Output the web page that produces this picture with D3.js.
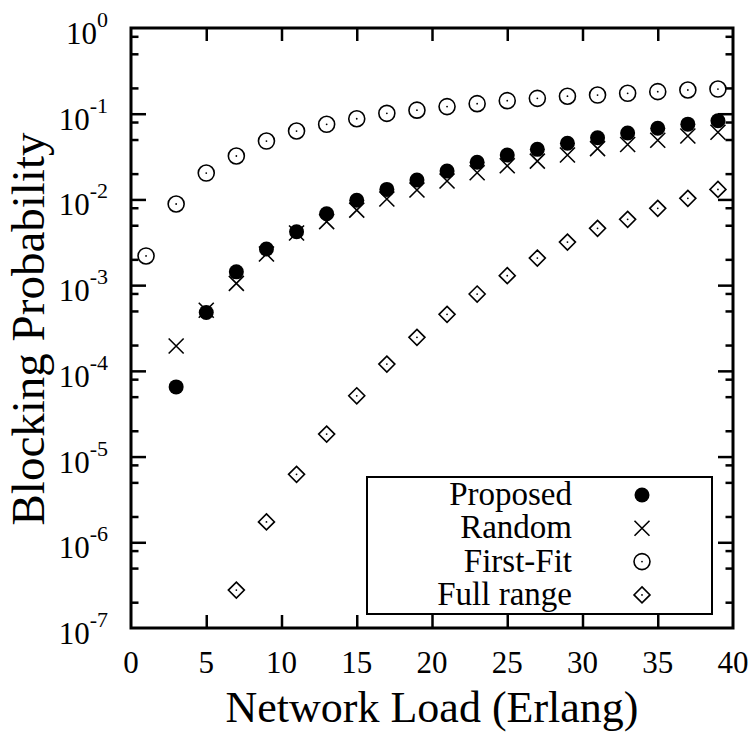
<!DOCTYPE html>
<html><head><meta charset="utf-8">
<script src="https://cdn.jsdelivr.net/npm/d3@7"></script>
<style>
html,body{margin:0;padding:0;background:#fff;}
svg{display:block;}
svg text{font-family:"Liberation Serif","Times New Roman",serif;fill:#000;}
</style></head>
<body>
<svg id="chart" width="755" height="738" font-family="Liberation Serif, serif"></svg>
<script>
const loads = [1,3,5,7,9,11,13,15,17,19,21,23,25,27,29,31,33,35,37,39];
const proposed = [null,6.5e-5,4.8e-4,1.43e-3,2.64e-3,4.2e-3,6.8e-3,9.8e-3,1.31e-2,1.68e-2,2.14e-2,2.71e-2,3.3e-2,3.84e-2,4.52e-2,5.25e-2,5.96e-2,6.76e-2,7.55e-2,8.28e-2];
const random = [null,1.95e-4,5.1e-4,1.05e-3,2.31e-3,4.06e-3,5.5e-3,7.5e-3,1.01e-2,1.29e-2,1.64e-2,2.05e-2,2.47e-2,2.8e-2,3.3e-2,3.91e-2,4.37e-2,4.9e-2,5.5e-2,6.08e-2];
const firstFit = [2.19e-3,8.84e-3,2.03e-2,3.21e-2,4.8e-2,6.28e-2,7.52e-2,8.74e-2,0.101,0.110,0.121,0.131,0.142,0.151,0.160,0.165,0.173,0.181,0.189,0.194];
const fullRange = [null,null,null,2.77e-7,1.73e-6,6.2e-6,1.83e-5,5.12e-5,1.2e-4,2.46e-4,4.56e-4,7.87e-4,1.29e-3,2.07e-3,3.18e-3,4.6e-3,5.86e-3,7.87e-3,1.03e-2,1.31e-2];
const seriesNames = ["Proposed","Random","First-Fit","Full range"];
const xTicks = [0,5,10,15,20,25,30,35,40];
const yDecades = [-7,-6,-5,-4,-3,-2,-1,0];
const yMinorMult = [2,5,8];
const xTitle = "Network Load (Erlang)";
const yTitle = "Blocking Probability";

const FONT = "Liberation Serif, Times New Roman, serif";
const L=131, R=733, T=28, B=628;
const svg = d3.select("#chart");
const x = d3.scaleLinear().domain([0,40]).range([L,R]);
const y = d3.scaleLog().domain([1e-7,1]).range([B,T]);

const majorY = yDecades.map(e=>Math.pow(10,e));
const minorY = [];
yDecades.slice(0,-1).forEach(e=>yMinorMult.forEach(m=>minorY.push(m*Math.pow(10,e))));

function styleAxis(g){
  g.select(".domain").remove();
  g.selectAll("line").attr("stroke","#000").attr("stroke-width",2.5);
}
svg.append("g").attr("transform",`translate(0,${B})`)
  .call(d3.axisBottom(x).tickValues(xTicks.slice(1,-1)).tickSize(-13).tickFormat("")).call(styleAxis);
svg.append("g").attr("transform",`translate(0,${T})`)
  .call(d3.axisTop(x).tickValues(xTicks.slice(1,-1)).tickSize(-13).tickFormat("")).call(styleAxis);
svg.append("g").attr("transform",`translate(${L},0)`)
  .call(d3.axisLeft(y).tickValues(majorY.slice(1,-1)).tickSize(-15).tickFormat("")).call(styleAxis);
svg.append("g").attr("transform",`translate(${L},0)`)
  .call(d3.axisLeft(y).tickValues(minorY).tickSize(-7.5).tickFormat("")).call(styleAxis);
svg.append("g").attr("transform",`translate(${R},0)`)
  .call(d3.axisRight(y).tickValues(majorY.slice(1,-1)).tickSize(-15).tickFormat("")).call(styleAxis);
svg.append("g").attr("transform",`translate(${R},0)`)
  .call(d3.axisRight(y).tickValues(minorY).tickSize(-7.5).tickFormat("")).call(styleAxis);

svg.append("rect").attr("x",L).attr("y",T).attr("width",R-L).attr("height",B-T)
  .attr("fill","none").attr("stroke","#000").attr("stroke-width",3);

svg.append("g").selectAll("text").data(xTicks).join("text")
  .attr("x",d=>x(d)).attr("y",673).attr("text-anchor","middle")
  .attr("font-family",FONT).style("font-size","31px").text(d=>d);

const yl = svg.append("g").selectAll("text").data(yDecades).join("text")
  .attr("x",108).attr("y",d=>y(Math.pow(10,d))+16).attr("text-anchor","end")
  .attr("font-family",FONT).style("font-size","31px");
yl.append("tspan").text("10");
yl.append("tspan").attr("dy",-17).style("font-size","22px").text(d=>d===0?"0":"-"+(-d));

svg.append("text").attr("x",(L+R)/2).attr("y",722).attr("text-anchor","middle")
  .attr("font-family",FONT).style("font-size","44px").text(xTitle);
svg.append("text").attr("transform",`translate(44,${(T+B)/2+1}) rotate(-90)`).attr("text-anchor","middle")
  .attr("font-family",FONT).style("font-size","47px").text(yTitle);

function pts(arr){ return loads.map((l,i)=>({x:l,v:arr[i]})).filter(d=>d.v!=null); }
const markers = {
  "Proposed": (g)=>g.append("circle").attr("r",7.5).attr("fill","#000"),
  "Random": (g)=>g.append("path").attr("d","M-7.5,-7.5L7.5,7.5M-7.5,7.5L7.5,-7.5").attr("stroke","#000").attr("stroke-width",1.6).attr("fill","none"),
  "First-Fit": (g)=>{g.append("circle").attr("r",8).attr("fill","none").attr("stroke","#000").attr("stroke-width",1.6);
                     g.append("circle").attr("r",0.9).attr("fill","#000");},
  "Full range": (g)=>{g.append("path").attr("d","M0,-8L8,0L0,8L-8,0Z").attr("fill","none").attr("stroke","#000").attr("stroke-width",1.6);
                      g.append("circle").attr("r",0.9).attr("fill","#000");}
};
const seriesData = [proposed,random,firstFit,fullRange];
const mk = svg.append("g");
seriesNames.forEach((name,si)=>{
  mk.append("g").selectAll("g").data(pts(seriesData[si])).join("g")
    .attr("transform",d=>`translate(${x(d.x)},${y(d.v)})`)
    .each(function(){ markers[name](d3.select(this)); });
});

const lg = svg.append("g");
lg.append("rect").attr("x",367).attr("y",477).attr("width",345).attr("height",137)
  .attr("fill","#fff").attr("stroke","#000").attr("stroke-width",2);
seriesNames.forEach((name,i)=>{
  const by = 505 + i*33.3;
  lg.append("text").attr("x",572).attr("y",by).attr("text-anchor","end")
    .attr("font-family",FONT).style("font-size","33px").text(name);
  const g = lg.append("g").attr("transform",`translate(642,${by-10})`);
  markers[name](g);
});
</script>
</body></html>
